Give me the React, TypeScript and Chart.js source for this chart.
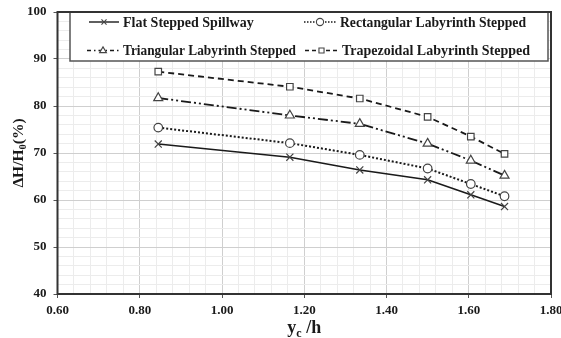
import React, { useEffect, useRef } from "react";
import { Chart, registerables } from "chart.js";

Chart.register(...registerables);

// ---- data ----
const xValues = [0.845, 1.165, 1.335, 1.5, 1.605, 1.687];
const flatStepped = [71.9, 69.1, 66.4, 64.3, 61.1, 58.6];
const rectangularLab = [75.4, 72.1, 69.6, 66.7, 63.4, 60.8];
const triangularLab = [81.7, 78.0, 76.2, 72.0, 68.4, 65.2];
const trapezoidalLab = [87.3, 84.1, 81.6, 77.7, 73.5, 69.8];
const seriesNames = [
  "Flat Stepped Spillway",
  "Rectangular Labyrinth Stepped",
  "Triangular Labyrinth Stepped",
  "Trapezoidal Labyrinth Stepped",
];
const xMajorTicks = [0.6, 0.8, 1.0, 1.2, 1.4, 1.6, 1.8];
const yMajorTicks = [40, 50, 60, 70, 80, 90, 100];

const FONT = "'Liberation Serif', 'Times New Roman', serif";
const INK = "#1a1a1a";

const isMajor = (v: number, list: number[]) => list.some((m) => Math.abs(m - v) < 1e-6);

const styles = [
  { dash: [] as number[], point: "crossRot", radius: 5, width: 1.6, legDash: [] as number[] },
  { dash: [2, 2], point: "circle", radius: 4.3, width: 2, legDash: [1.5, 1.5] },
  { dash: [10, 3, 2, 3, 2, 3], point: "triangle", radius: 5.2, width: 1.8, legDash: [4, 3, 1.5, 3] },
  { dash: [6, 4], point: "rect", radius: 4.6, width: 1.8, legDash: [4, 3] },
];

function drawMarker(ctx: CanvasRenderingContext2D, style: string, r: number, x: number, y: number) {
  ctx.save();
  ctx.fillStyle = "#fff";
  ctx.strokeStyle = "#444";
  ctx.lineWidth = 1.1;
  ctx.setLineDash([]);
  ctx.beginPath();
  if (style === "crossRot") {
    const d = r * Math.SQRT1_2;
    ctx.moveTo(x - d, y - d);
    ctx.lineTo(x + d, y + d);
    ctx.moveTo(x + d, y - d);
    ctx.lineTo(x - d, y + d);
    ctx.stroke();
  } else if (style === "circle") {
    ctx.arc(x, y, r, 0, Math.PI * 2);
    ctx.fill();
    ctx.stroke();
  } else if (style === "triangle") {
    ctx.moveTo(x, y - r);
    ctx.lineTo(x + r * 0.95, y + r * 0.6);
    ctx.lineTo(x - r * 0.95, y + r * 0.6);
    ctx.closePath();
    ctx.fill();
    ctx.stroke();
  } else {
    const s = r * Math.SQRT1_2;
    ctx.rect(x - s, y - s, 2 * s, 2 * s);
    ctx.fill();
    ctx.stroke();
  }
  ctx.restore();
}

const decorPlugin = {
  id: "decor",
  afterDatasetsDraw(chart: any) {
    const { ctx, chartArea: a } = chart;
    ctx.save();
    // legend box
    const lx = 70, ly = a.top, lw = 548 - 70, lh = 49;
    ctx.fillStyle = "#ffffff";
    ctx.fillRect(lx, ly, lw, lh);
    ctx.strokeStyle = "#555";
    ctx.lineWidth = 1.5;
    ctx.strokeRect(lx, ly, lw, lh);
    const entries = [
      { i: 0, sx: 89, tx: 123, w: 134, y: ly + 10 },
      { i: 2, sx: 87, tx: 123, w: 173, y: ly + 38.5 },
      { i: 1, sx: 304, tx: 340, w: 186, y: ly + 10 },
      { i: 3, sx: 305, tx: 342, w: 188, y: ly + 38.5 },
    ];
    entries.forEach((e) => {
      const s = styles[e.i];
      const sw = e.tx - e.sx - 4;
      ctx.save();
      ctx.strokeStyle = INK;
      ctx.lineWidth = 1.4;
      ctx.setLineDash(s.legDash);
      ctx.beginPath();
      ctx.moveTo(e.sx, e.y);
      ctx.lineTo(e.sx + sw, e.y);
      ctx.stroke();
      ctx.restore();
      drawMarker(ctx, s.point, 3.6, e.sx + sw / 2, e.y);
      ctx.fillStyle = INK;
      ctx.font = `bold 14px ${FONT}`;
      ctx.textBaseline = "middle";
      ctx.textAlign = "left";
      ctx.fillText(seriesNames[e.i], e.tx, e.y + 1, e.w);
    });

    // plot frame
    ctx.strokeStyle = "#333";
    ctx.lineWidth = 2;
    ctx.strokeRect(a.left, a.top, a.right - a.left, a.bottom - a.top);

    // y title  ΔH/H0(%)
    ctx.fillStyle = INK;
    ctx.save();
    ctx.translate(18, (a.top + a.bottom) / 2);
    ctx.rotate(-Math.PI / 2);
    const big = `bold 15.5px ${FONT}`;
    const small = `bold 10.5px ${FONT}`;
    ctx.font = big;
    const p1 = "\u0394H/H";
    const p3 = "(%)";
    const w1 = ctx.measureText(p1).width;
    const w3 = ctx.measureText(p3).width;
    ctx.font = small;
    const w2 = ctx.measureText("0").width;
    const tot = w1 + w2 + w3;
    const x0 = -tot / 2;
    ctx.textBaseline = "alphabetic";
    ctx.textAlign = "left";
    ctx.font = big;
    ctx.fillText(p1, x0, 5);
    ctx.font = small;
    ctx.fillText("0", x0 + w1, 8);
    ctx.font = big;
    ctx.fillText(p3, x0 + w1 + w2, 5);
    ctx.restore();

    // x title  yc /h
    ctx.save();
    const bigX = `bold 18px ${FONT}`;
    const smallX = `bold 12px ${FONT}`;
    ctx.font = bigX;
    const q1w = ctx.measureText("y").width;
    const q3 = " /h";
    const q3w = ctx.measureText(q3).width;
    ctx.font = smallX;
    const q2w = ctx.measureText("c").width;
    const totX = q1w + q2w + q3w;
    const cx = (a.left + a.right) / 2;
    const xs = cx - totX / 2;
    ctx.textBaseline = "alphabetic";
    ctx.textAlign = "left";
    ctx.font = bigX;
    ctx.fillText("y", xs, 333);
    ctx.font = smallX;
    ctx.fillText("c", xs + q1w, 337);
    ctx.font = bigX;
    ctx.fillText(q3, xs + q1w + q2w, 333);
    ctx.restore();

    ctx.restore();
  },
};

export default function App() {
  const ref = useRef<HTMLCanvasElement | null>(null);
  useEffect(() => {
    if (!ref.current) return;
    const all = [flatStepped, rectangularLab, triangularLab, trapezoidalLab];
    const chart = new Chart(ref.current, {
      type: "line",
      data: {
        datasets: all.map((vals, i) => ({
          label: seriesNames[i],
          data: xValues.map((x, j) => ({ x, y: vals[j] })),
          borderColor: INK,
          borderWidth: styles[i].width,
          borderDash: styles[i].dash,
          pointStyle: styles[i].point as any,
          pointRadius: styles[i].radius,
          pointBorderWidth: 1.2,
          pointBorderColor: "#444",
          pointBackgroundColor: "#fff",
          fill: false,
          tension: 0,
        })),
      },
      options: {
        animation: false,
        responsive: true,
        maintainAspectRatio: false,
        layout: { padding: { top: 12, right: 10, left: 0, bottom: 0 } },
        plugins: { legend: { display: false }, tooltip: { enabled: false } },
        scales: {
          x: {
            type: "linear",
            min: 0.6,
            max: 1.8,
            border: { display: false },
            afterFit(scale: any) {
              scale.height = 44;
              scale.paddingLeft = 0;
              scale.paddingRight = 0;
            },
            afterBuildTicks(scale: any) {
              const t = [];
              for (let k = 0; k <= 30; k++) t.push({ value: Math.round((0.6 + k * 0.04) * 1000) / 1000 });
              scale.ticks = t;
            },
            grid: {
              color: (c: any) => (isMajor(c.tick?.value, xMajorTicks) ? "#cfcfcf" : "#ececec"),
              tickColor: (c: any) => (isMajor(c.tick?.value, xMajorTicks) ? "#555" : "rgba(0,0,0,0)"),
              tickLength: 4,
              lineWidth: 1,
            },
            ticks: {
              autoSkip: false,
              maxRotation: 0,
              padding: 5,
              color: INK,
              font: { family: FONT, size: 13, weight: "bold" },
              callback: (v: any) => (isMajor(Number(v), xMajorTicks) ? Number(v).toFixed(2) : ""),
            },
          },
          y: {
            type: "linear",
            min: 40,
            max: 100,
            border: { display: false },
            afterFit(scale: any) {
              scale.width = 57.5;
              scale.paddingTop = 0;
              scale.paddingBottom = 0;
            },
            afterBuildTicks(scale: any) {
              const t = [];
              for (let k = 0; k <= 30; k++) t.push({ value: 40 + k * 2 });
              scale.ticks = t;
            },
            grid: {
              color: (c: any) => (isMajor(c.tick?.value, yMajorTicks) ? "#cfcfcf" : "#ececec"),
              tickColor: (c: any) => (isMajor(c.tick?.value, yMajorTicks) ? "#555" : "rgba(0,0,0,0)"),
              tickLength: 4,
              lineWidth: 1,
            },
            ticks: {
              autoSkip: false,
              padding: 7,
              color: INK,
              font: { family: FONT, size: 13, weight: "bold" },
              callback: (v: any) => (isMajor(Number(v), yMajorTicks) ? String(v) : ""),
            },
          },
        },
      },
      plugins: [decorPlugin],
    });
    return () => chart.destroy();
  }, []);
  return (
    <div style={{ position: "fixed", left: 0, top: 0, width: 561, height: 338, background: "#fff" }}>
      <canvas ref={ref} />
    </div>
  );
}
